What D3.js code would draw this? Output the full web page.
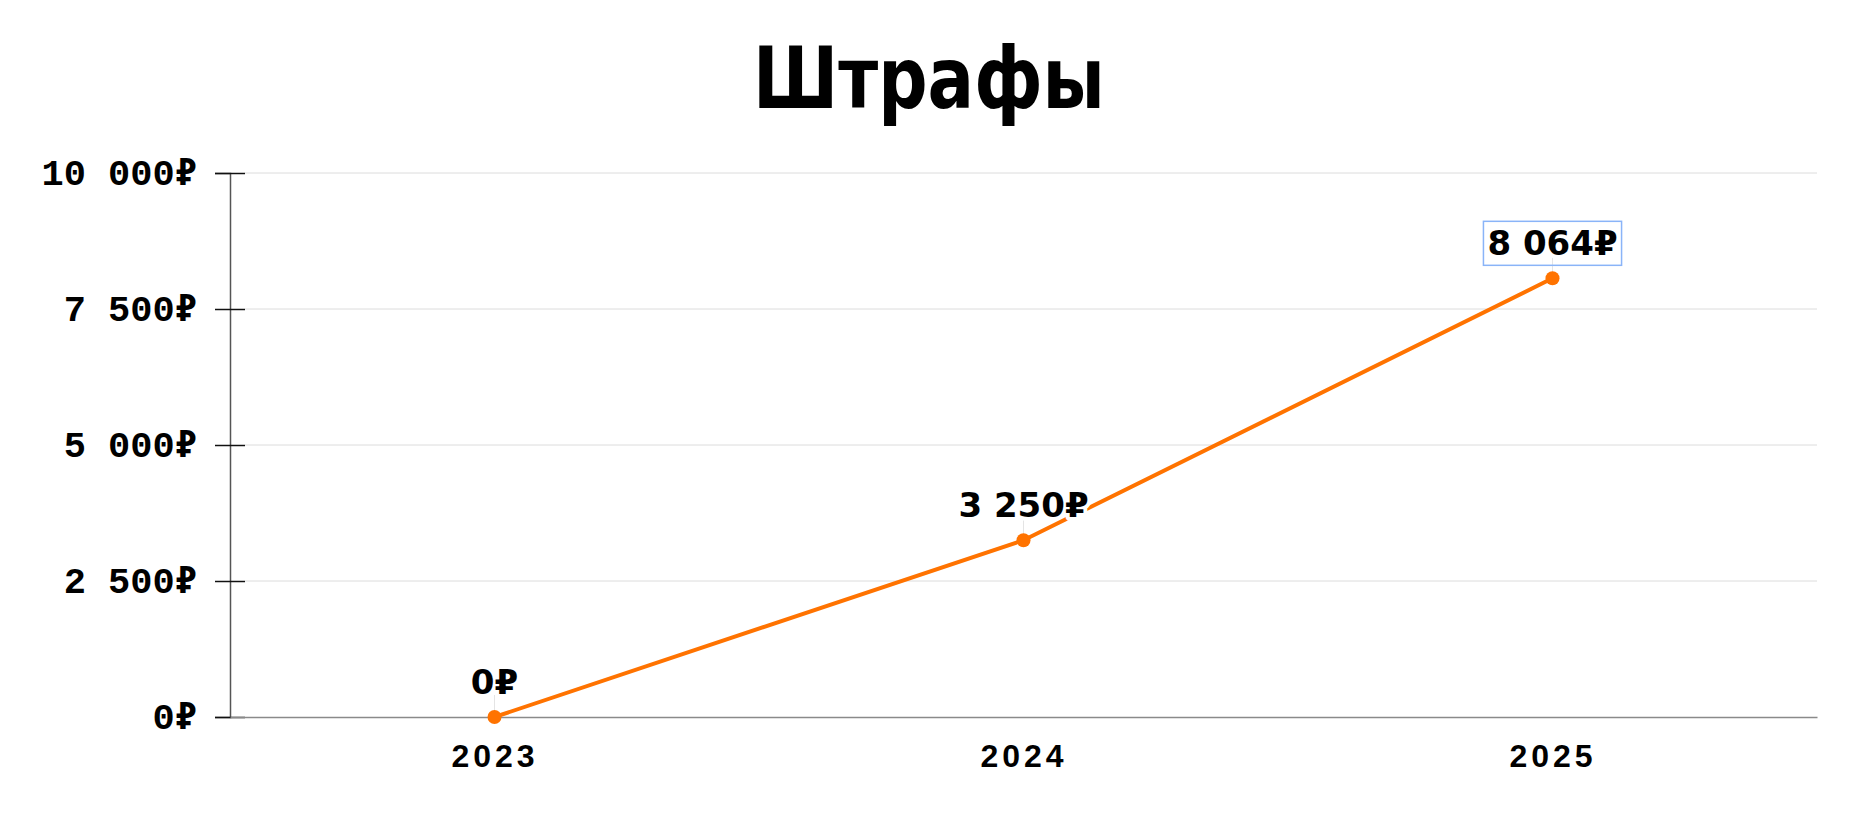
<!DOCTYPE html>
<html>
<head>
<meta charset="utf-8">
<script src="https://cdn.jsdelivr.net/npm/d3@7"></script>
<style>
  html, body { margin: 0; padding: 0; background: #fff; }
  svg { display: block; }
</style>
</head>
<body>
<svg id="chart" width="1858" height="813"></svg>
<script>
var years = ["2023", "2024", "2025"];
var fines = [0, 3250, 8064];
var yTicks = [0, 2500, 5000, 7500, 10000];
var titleText = "Штрафы";

(function () {
    var width = 1858, height = 813;
    var margin = { top: 173, right: 41, bottom: 96, left: 230 };
    var svg = d3.select("#chart");
    var lineColor = "#ff7300";
    var roundFont = "'DejaVu Sans', sans-serif";

    var rub = d3.formatLocale({
        decimal: ",", thousands: "\u00a0", grouping: [3], currency: ["", "₽"]
    }).format("$,.0f");

    var x = d3.scalePoint()
        .domain(years)
        .range([margin.left, width - margin.right])
        .padding(0.5);

    var y = d3.scaleLinear()
        .domain([0, 10000])
        .range([height - margin.bottom, margin.top]);

    // title
    svg.append("text")
        .attr("x", 929)
        .attr("y", 108)
        .attr("text-anchor", "middle")
        .attr("textLength", 352)
        .attr("lengthAdjust", "spacingAndGlyphs")
        .style("font-family", roundFont)
        .style("font-weight", "bold")
        .style("font-size", "86px")
        .text(titleText);

    // grid
    svg.append("g")
        .selectAll("line")
        .data(yTicks.filter(function (d) { return d > 0; }))
        .enter().append("line")
        .attr("x1", margin.left + 15)
        .attr("x2", width - margin.right)
        .attr("y1", function (d) { return y(d); })
        .attr("y2", function (d) { return y(d); })
        .attr("stroke", "#dcdcdc")
        .attr("stroke-width", 1);

    // y axis
    var yAxis = svg.append("g")
        .attr("transform", "translate(" + margin.left + ",0)")
        .call(d3.axisLeft(y).tickValues(yTicks).tickFormat(rub).tickSize(15).tickPadding(18));
    yAxis.select(".domain").attr("stroke", "#555").attr("stroke-width", 1.5);
    yAxis.selectAll(".tick line").attr("x2", 15).attr("x1", -15).attr("stroke", "#111").attr("stroke-width", 1.5);
    yAxis.selectAll(".tick text")
        .attr("fill", "#000")
        .style("font-family", "'Liberation Mono', 'Courier New', monospace")
        .style("font-weight", "bold")
        .style("font-size", "37px");

    // x axis
    var xAxis = svg.append("g")
        .attr("transform", "translate(0," + y(0) + ")")
        .call(d3.axisBottom(x).tickSize(0).tickPadding(0));
    xAxis.select(".domain").attr("stroke", "#8a8a8a").attr("stroke-width", 1.5);
    xAxis.selectAll(".tick text")
        .attr("dy", null)
        .attr("y", 50)
        .attr("fill", "#000")
        .style("font-family", "'Liberation Sans', Arial, sans-serif")
        .style("font-weight", "bold")
        .style("letter-spacing", "4px")
        .style("font-size", "32px");

    var pts = years.map(function (d, i) { return { year: d, value: fines[i] }; });

    // leader lines
    svg.append("g")
        .selectAll("line")
        .data(pts)
        .enter().append("line")
        .attr("x1", function (d) { return x(d.year); })
        .attr("x2", function (d) { return x(d.year); })
        .attr("y1", function (d) { return y(d.value) - 22; })
        .attr("y2", function (d) { return y(d.value) - 6; })
        .attr("stroke", "#e4e4e4")
        .attr("stroke-width", 1);

    // line
    svg.append("path")
        .datum(pts)
        .attr("fill", "none")
        .attr("stroke", lineColor)
        .attr("stroke-width", 4)
        .attr("d", d3.line()
            .x(function (d) { return x(d.year); })
            .y(function (d) { return y(d.value); }));

    svg.append("g")
        .selectAll("circle")
        .data(pts)
        .enter().append("circle")
        .attr("cx", function (d) { return x(d.year); })
        .attr("cy", function (d) { return y(d.value); })
        .attr("r", 7)
        .attr("fill", lineColor);

    // value labels
    var labels = svg.append("g")
        .selectAll("text")
        .data(pts)
        .enter().append("text")
        .attr("x", function (d) { return x(d.year); })
        .attr("y", function (d) { return y(d.value) - 23; })
        .attr("text-anchor", "middle")
        .style("font-family", roundFont)
        .style("font-weight", "bold")
        .style("font-size", "34px")
        .style("paint-order", "stroke")
        .attr("stroke", "#fff")
        .attr("stroke-width", 8)
        .attr("stroke-linejoin", "round")
        .attr("fill", "#000")
        .text(function (d) { return rub(d.value); });

    // highlighted box around the last label
    var last = labels.filter(function (d, i) { return i === pts.length - 1; }).node();
    var bb = last.getBBox();
    svg.append("rect")
        .attr("x", bb.x - 4)
        .attr("y", bb.y - 2)
        .attr("width", bb.width + 8)
        .attr("height", bb.height + 4)
        .attr("fill", "none")
        .attr("stroke", "#8ab4f8")
        .attr("stroke-width", 1.5);
})();
</script>
</body>
</html>
